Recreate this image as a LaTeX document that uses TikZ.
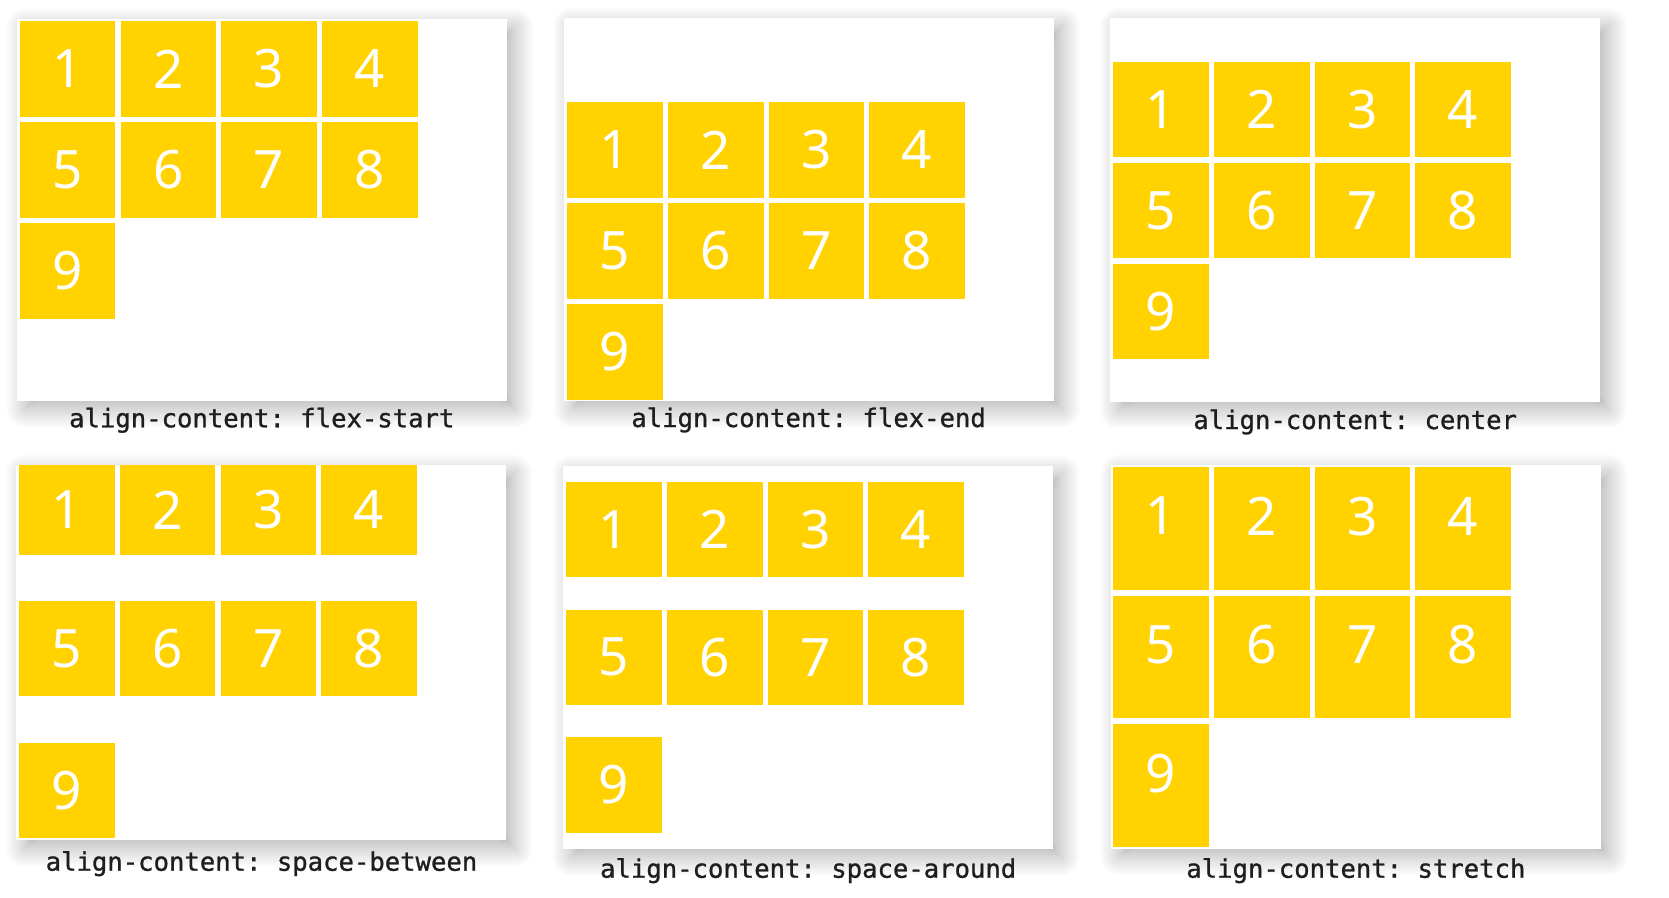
\documentclass[tikz,border=0pt]{standalone}
\usepackage{fontspec}
\setmainfont{Noto Sans}
\newfontfamily\capfont{DejaVu Sans Mono}[FakeBold=1]
\usetikzlibrary{positioning, backgrounds}
\definecolor{flexgold}{HTML}{FFD200}
\definecolor{capgray}{HTML}{1E1E1E}

\begin{document}
\begin{tikzpicture}[x=1pt, y=-1pt, node distance=5.4pt and 4.7pt,
    panel/.style={rectangle, fill=white, inner sep=0pt, minimum width=490pt, minimum height=382pt, anchor=north west},
    item/.style={rectangle, fill=flexgold, text=white, inner sep=0pt, minimum width=95.6pt, minimum height=95.3pt,
        font=\fontsize{53}{60}\selectfont},
    tall/.style={item, minimum height=122.7pt, text depth=25pt},
    captext/.style={anchor=base, text=capgray, font=\capfont\fontsize{25.6}{29}\selectfont\frenchspacing},
    shade/.style={fill=black, opacity=0.014}]

    \useasboundingbox (0,0) rectangle (1669,897);

    % flex-start
    \node[panel, minimum height=381.7pt] (flexstart) at (16.8,19) {};
    \node[item, anchor=north west] (s1) at (19.6,21) {1};
    \node[item, right=of s1] (s2) {2};
    \node[item, right=of s2] (s3) {3};
    \node[item, right=of s3] (s4) {4};
    \node[item, below=of s1] (s5) {5};
    \node[item, right=of s5] (s6) {6};
    \node[item, right=of s6] (s7) {7};
    \node[item, right=of s7] (s8) {8};
    \node[item, below=of s5] (s9) {9};
    \node[captext] (capstart) at (261.8,427.3) {align-content: flex-start};

    % flex-end
    \node[panel, minimum height=382.7pt] (flexend) at (563.6,18) {};
    \node[item, anchor=north west] (e1) at (567,102) {1};
    \node[item, right=of e1] (e2) {2};
    \node[item, right=of e2] (e3) {3};
    \node[item, right=of e3] (e4) {4};
    \node[item, below=of e1] (e5) {5};
    \node[item, right=of e5] (e6) {6};
    \node[item, right=of e6] (e7) {7};
    \node[item, right=of e7] (e8) {8};
    \node[item, below=of e5] (e9) {9};
    \node[captext] (capend) at (808.6,427) {align-content: flex-end};

    % center
    \node[panel, minimum height=383.7pt] (centered) at (1110.2,18) {};
    \node[item, anchor=north west] (c1) at (1113,61.7) {1};
    \node[item, right=of c1] (c2) {2};
    \node[item, right=of c2] (c3) {3};
    \node[item, right=of c3] (c4) {4};
    \node[item, below=of c1] (c5) {5};
    \node[item, right=of c5] (c6) {6};
    \node[item, right=of c6] (c7) {7};
    \node[item, right=of c7] (c8) {8};
    \node[item, below=of c5] (c9) {9};
    \node[captext] (capcenter) at (1355.2,429) {align-content: center};

    % space-between
    \node[panel, minimum height=375pt] (between) at (16,465) {};
    \node[item, minimum height=89.3pt, anchor=north west] (b1) at (18.9,465) {1};
    \node[item, minimum height=89.3pt, right=of b1] (b2) {2};
    \node[item, minimum height=89.3pt, right=of b2] (b3) {3};
    \node[item, minimum height=89.3pt, right=of b3] (b4) {4};
    \node[item, below=46pt of b1] (b5) {5};
    \node[item, right=of b5] (b6) {6};
    \node[item, right=of b6] (b7) {7};
    \node[item, right=of b7] (b8) {8};
    \node[item, below=46pt of b5] (b9) {9};
    \node[captext] (capbetween) at (261.5,870.7) {align-content: space-between};

    % space-around
    \node[panel, minimum height=383.3pt] (around) at (562.9,465.7) {};
    \node[item, anchor=north west] (a1) at (566,481.7) {1};
    \node[item, right=of a1] (a2) {2};
    \node[item, right=of a2] (a3) {3};
    \node[item, right=of a3] (a4) {4};
    \node[item, below=32pt of a1] (a5) {5};
    \node[item, right=of a5] (a6) {6};
    \node[item, right=of a6] (a7) {7};
    \node[item, right=of a7] (a8) {8};
    \node[item, below=32pt of a5] (a9) {9};
    \node[captext] (caparound) at (808.2,877.7) {align-content: space-around};

    % stretch
    \node[panel, minimum height=383.3pt] (stretch) at (1110.9,465) {};
    \node[tall, anchor=north west] (t1) at (1113,467) {1};
    \node[tall, right=of t1] (t2) {2};
    \node[tall, right=of t2] (t3) {3};
    \node[tall, right=of t3] (t4) {4};
    \node[tall, below=of t1] (t5) {5};
    \node[tall, right=of t5] (t6) {6};
    \node[tall, right=of t6] (t7) {7};
    \node[tall, right=of t7] (t8) {8};
    \node[tall, below=of t5] (t9) {9};
    \node[captext] (capstretch) at (1355.9,877.7) {align-content: stretch};

    % soft shadows behind the panels
    \begin{scope}[on background layer]
        \fill[white] (0,0) rectangle (1669,897);
        \foreach \p in {flexstart,flexend,centered,between,around,stretch}
            \foreach \r [evaluate=\r as \rc using \r+16] in {-14,-12,...,18}
                \fill[shade, rounded corners=\rc pt] ([shift={(8-\r,8-\r)}]\p.north west) rectangle ([shift={(8+\r,8+\r)}]\p.south east);
    \end{scope}
\end{tikzpicture}
\end{document}
